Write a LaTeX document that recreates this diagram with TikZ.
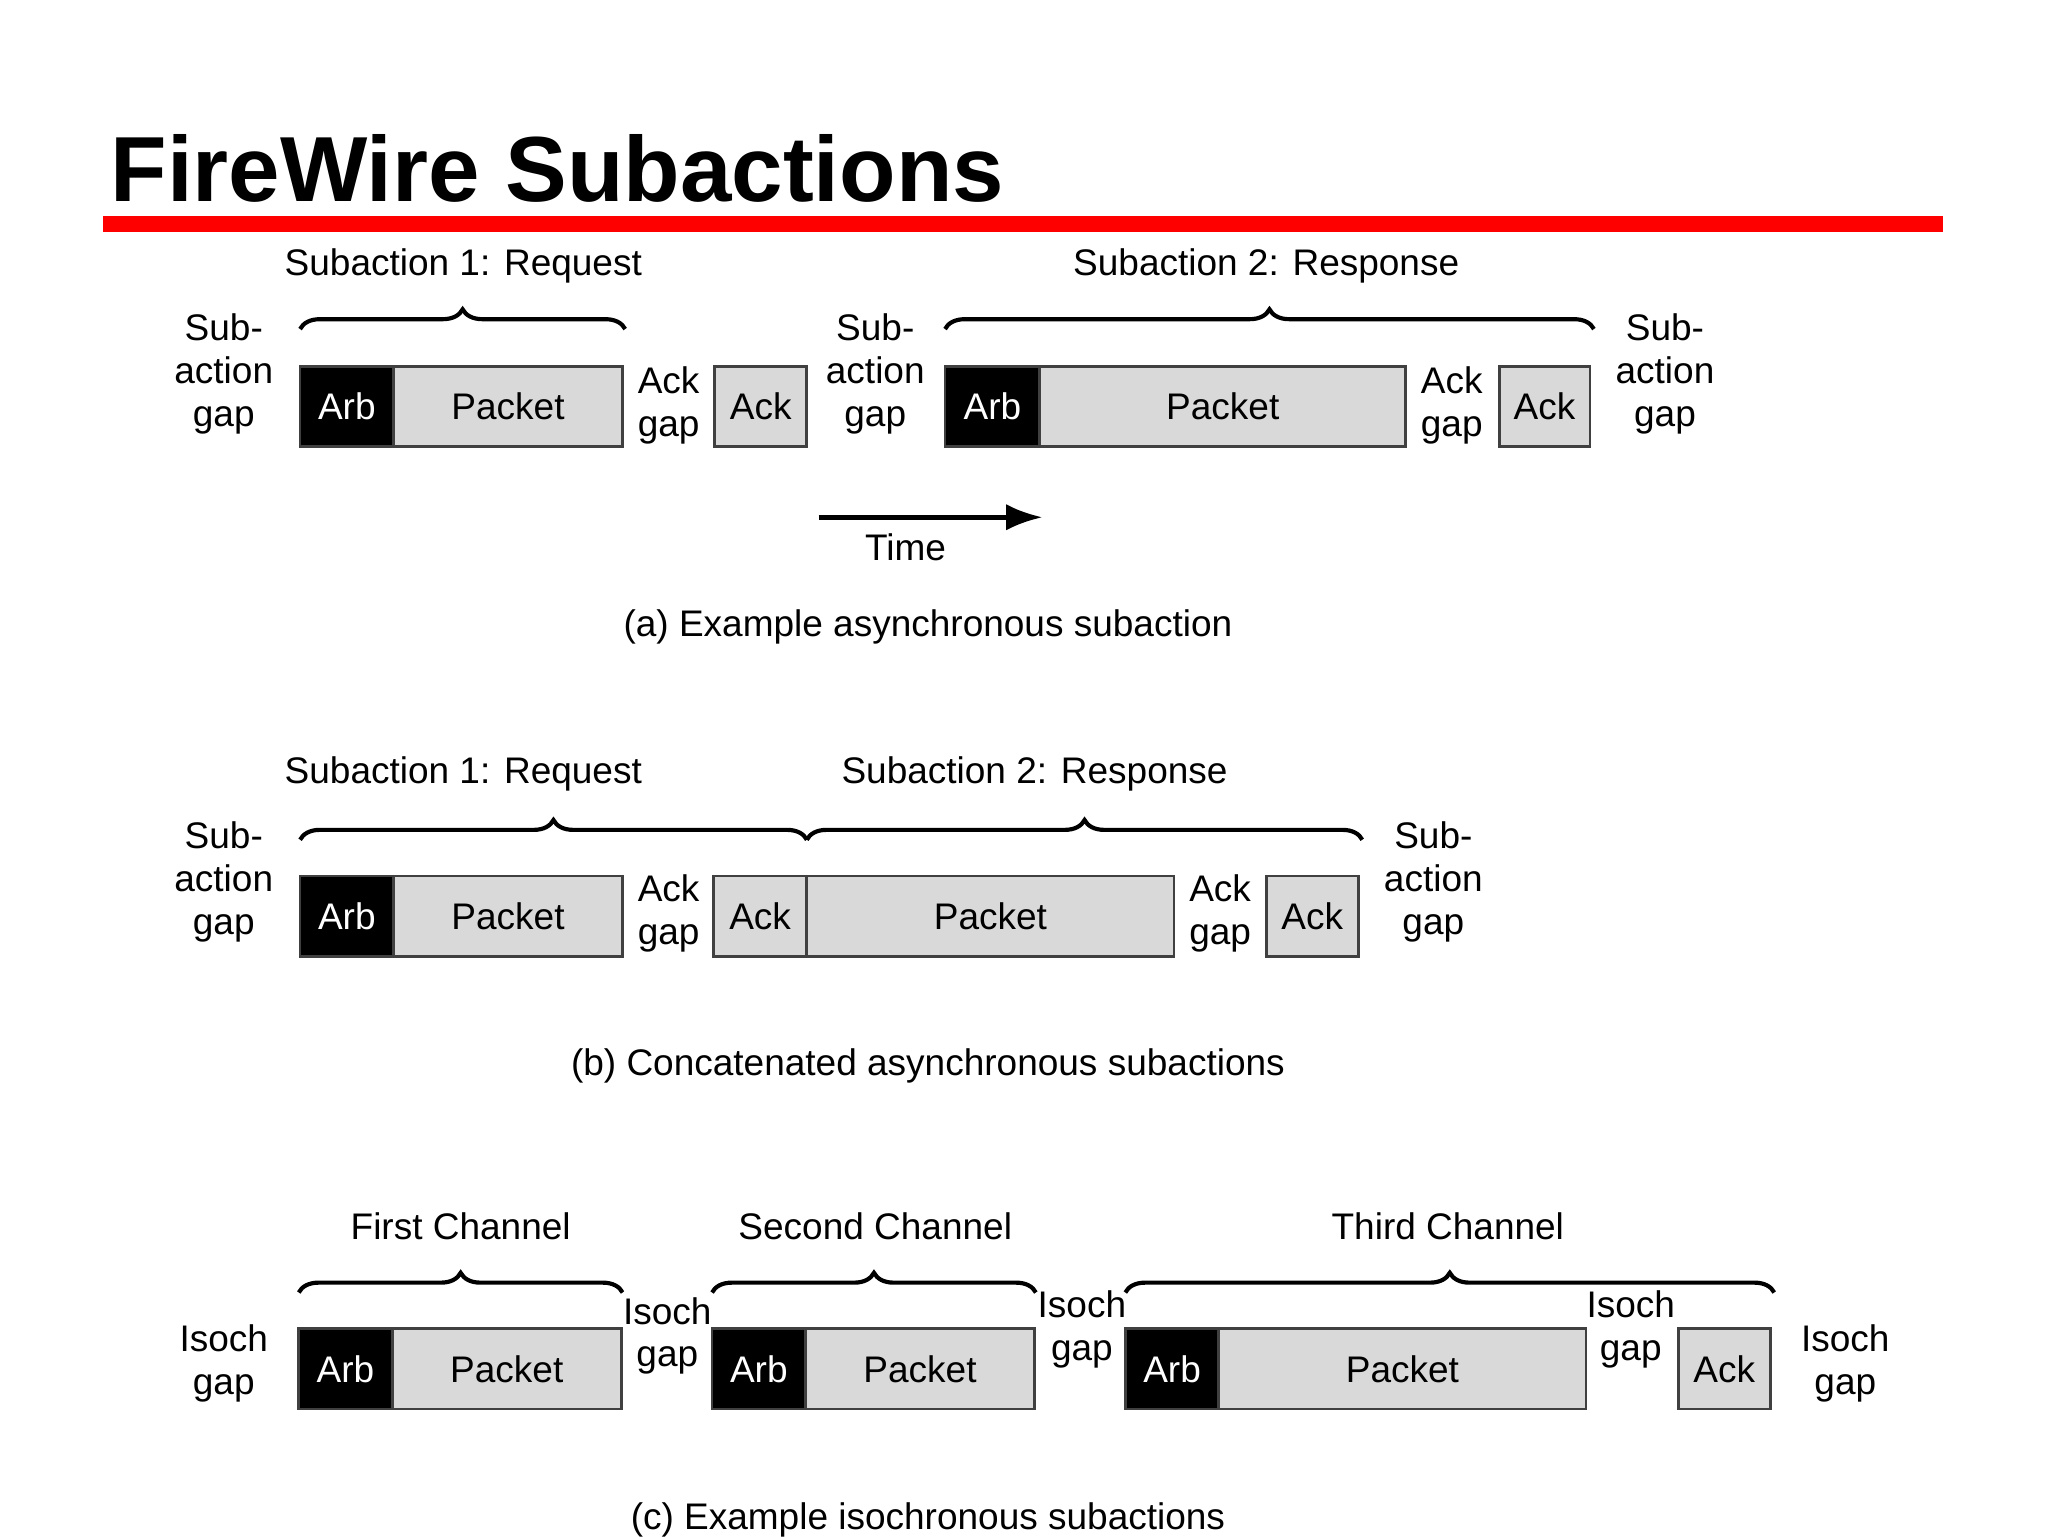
\documentclass[tikz,border=0pt]{standalone}
\usepackage{fontspec}
\setmainfont{Liberation Sans}
\usetikzlibrary{decorations.pathreplacing,arrows.meta}
\begin{document}
\begin{tikzpicture}[x=0.02cm,y=-0.02cm,
  every node/.style={font=\fontsize{16}{18.5}\selectfont, inner sep=0pt, outer sep=0pt, align=center},
  box/.style={draw=black!75, line width=1.2pt, minimum height=1.22cm},
  pk/.style={box, fill=black!15},
  arb/.style={box, fill=black, text=white},
  brc/.style={decorate, decoration={brace, amplitude=0.3cm}, line width=1.8pt},
  lbl/.style={}]
\useasboundingbox (0,0) rectangle (1556,1167);
\node[anchor=west, font=\fontsize{40}{44}\bfseries\selectfont] (title) at (84,128) {FireWire Subactions};
\fill[red] (78,164) rectangle (1476,176);
% row a
\node[arb, minimum width=1.42cm] (a1) at (263.5,309) {Arb};
\node[pk, minimum width=3.48cm] (a2) at (386,309) {Packet};
\node[pk, minimum width=1.4cm] (a3) at (578,309) {Ack};
\node[arb, minimum width=1.44cm] (a4) at (754,309) {Arb};
\node[pk, minimum width=5.56cm] (a5) at (929,309) {Packet};
\node[pk, minimum width=1.38cm] (a6) at (1173.5,309) {Ack};
\node (ga1) at (170,284) {Sub-\\action\\gap};
\node (ga2) at (508,308) {Ack\\gap};
\node (ga3) at (665,284) {Sub-\\action\\gap};
\node (ga4) at (1103,308) {Ack\\gap};
\node (ga5) at (1265,284) {Sub-\\action\\gap};
\coordinate (ba1) at (228,250); \coordinate (ba2) at (475,250);
\coordinate (ba3) at (718,250); \coordinate (ba4) at (1211,250);
\draw[brc] (ba1) -- (ba2);
\draw[brc] (ba3) -- (ba4);
\node (sa1) at (352,202) {Subaction 1: Request};
\node (sa2) at (962,202) {Subaction 2: Response};
\coordinate (t1) at (622,393); \coordinate (t2) at (792,393);
\draw[line width=2pt, -{Latex[length=0.55cm,width=0.4cm]}] (t1) -- (t2);
\node (time) at (688,416) {Time};
\node (capa) at (705,476) {(a) Example asynchronous subaction};
% row b
\node[arb, minimum width=1.42cm] (b1) at (263.5,696) {Arb};
\node[pk, minimum width=3.48cm] (b2) at (386,696) {Packet};
\node[pk, minimum width=1.42cm] (b3) at (577.5,696) {Ack};
\node[pk, minimum width=5.58cm] (b4) at (752.5,696) {Packet};
\node[pk, minimum width=1.4cm] (b5) at (997,696) {Ack};
\node (gb1) at (170,670) {Sub-\\action\\gap};
\node (gb2) at (508,694) {Ack\\gap};
\node (gb3) at (927,694) {Ack\\gap};
\node (gb4) at (1089,670) {Sub-\\action\\gap};
\coordinate (bb1) at (228,638); \coordinate (bb2) at (613,638); \coordinate (bb3) at (1035,638);
\draw[brc] (bb1) -- (bb2);
\draw[brc] (bb2) -- (bb3);
\node (sb1) at (352,588) {Subaction 1: Request};
\node (sb2) at (786,588) {Subaction 2: Response};
\node (capb) at (705,810) {(b) Concatenated asynchronous subactions};
% row c
\node[arb, minimum width=1.42cm] (c1) at (262.5,1040) {Arb};
\node[pk, minimum width=3.48cm] (c2) at (385,1040) {Packet};
\node[arb, minimum width=1.42cm] (c3) at (576.5,1040) {Arb};
\node[pk, minimum width=3.48cm] (c4) at (699,1040) {Packet};
\node[arb, minimum width=1.42cm] (c5) at (890.5,1040) {Arb};
\node[pk, minimum width=5.58cm] (c6) at (1065.5,1040) {Packet};
\node[pk, minimum width=1.4cm] (c7) at (1310,1040) {Ack};
\node (gc1) at (170,1036) {Isoch\\gap};
\node (gc2) at (507,1015) {Isoch\\gap};
\node (gc3) at (822,1010) {Isoch\\gap};
\node (gc4) at (1239,1010) {Isoch\\gap};
\node (gc5) at (1402,1036) {Isoch\\gap};
\coordinate (bc1) at (227,982); \coordinate (bc2) at (473,982);
\coordinate (bc3) at (541,982); \coordinate (bc4) at (787,982);
\coordinate (bc5) at (855,982); \coordinate (bc6) at (1348,982);
\draw[brc] (bc1) -- (bc2);
\draw[brc] (bc3) -- (bc4);
\draw[brc] (bc5) -- (bc6);
\node (sc1) at (350,932) {First Channel};
\node (sc2) at (665,932) {Second Channel};
\node (sc3) at (1100,932) {Third Channel};
\node (capc) at (705,1155) {(c) Example isochronous subactions};
\end{tikzpicture}
\end{document}
